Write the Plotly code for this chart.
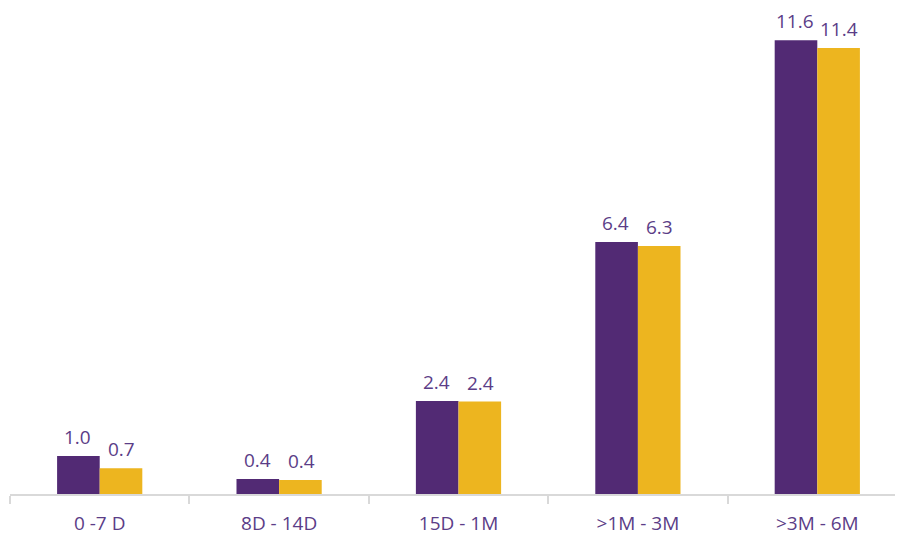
import plotly.graph_objects as go

categories = ["0 -7 D", "8D - 14D", "15D - 1M", ">1M - 3M", ">3M - 6M"]
series_a = [0.97, 0.38, 2.37, 6.43, 11.58]
series_b = [0.66, 0.36, 2.36, 6.33, 11.38]

purple = "#522a74"
yellow = "#edb51f"
text_color = "#5b3d87"
font_family = "Open Sans, Noto Sans, sans-serif"

fig = go.Figure()
fig.add_trace(go.Bar(x=categories, y=series_a, marker_color=purple, marker_line_width=0))
fig.add_trace(go.Bar(x=categories, y=series_b, marker_color=yellow, marker_line_width=0))

# value labels sit a bit higher above the bars than plotly's "outside" text
annotations = []
for vals, shift in ((series_a, -22), (series_b, 22)):
    for cat, v in zip(categories, vals):
        annotations.append(dict(
            x=cat, y=v, text=f"{v:.1f}", showarrow=False,
            xshift=shift, yshift=5, yanchor="bottom", borderpad=0,
            font=dict(size=19, color=text_color, family=font_family),
        ))

# page body has an 8px margin, size/margins below account for it
fig.update_layout(
    width=899,
    height=528,
    margin=dict(l=2, r=0, t=0, b=42),
    barmode="group",
    bargap=0.525,
    bargroupgap=0,
    showlegend=False,
    plot_bgcolor="white",
    paper_bgcolor="white",
    annotations=annotations,
    font=dict(family=font_family, size=19, color=text_color),
)
fig.update_xaxes(
    showline=True, linecolor="#d9d9d9", linewidth=2,
    ticks="outside", tickson="boundaries", ticklen=8, tickcolor="#d9d9d9", tickwidth=2,
    ticklabelstandoff=11,
    tickfont=dict(size=19, color=text_color),
    range=[-0.5, 4.5],
)
fig.update_yaxes(visible=False, range=[0, 12.4])

fig.write_html("out.html")
